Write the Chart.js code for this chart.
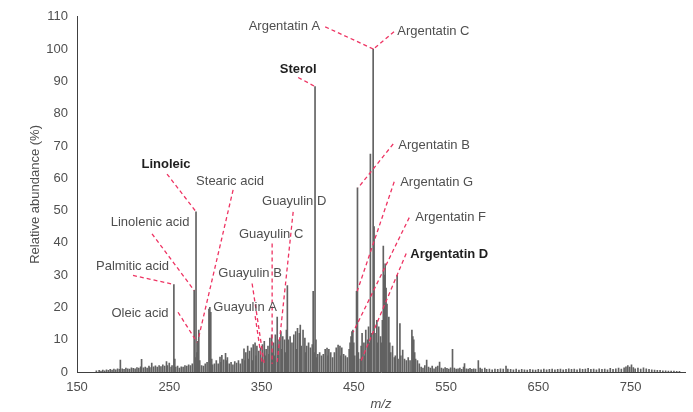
<!DOCTYPE html>
<html>
<head>
<meta charset="utf-8">
<script src="https://cdn.jsdelivr.net/npm/chart.js@4.4.0/dist/chart.umd.min.js"></script>
<style>
html,body{margin:0;padding:0;background:#fff;}
</style>
</head>
<body>
<canvas id="spectrum" width="693" height="412"></canvas>
<script>
// m/z positions of the peaks
const mzValues = [
  171,174,176,178,180,182,184,186,188,190,192,194,196,197,199,201,203,205,207,209,
  211,213,215,217,219,220,222,224,226,228,229,231,233,235,237,239,241,243,245,247,
  248,250,252,253,
  255,256,257,259,261,263,265,267,269,271,273,275,277,278,279,280,281,282,283,285,
  287,289,291,293,294,295,296,297,299,
  301,303,305,306,307,309,311,312,313,315,317,319,321,323,325,327,329,331,332,333,
  335,336,337,339,340,341,343,344,345,347,349,350,351,353,354,355,357,358,359,361,
  362,363,364,365,367,368,369,371,372,373,375,376,377,378,379,381,
  383,385,387,388,389,391,392,393,395,397,398,399,401,403,405,406,407,408,409,410,
  411,413,415,417,419,421,422,423,425,427,429,431,433,435,436,437,439,441,443,445,
  446,447,448,449,450,
  451,453,454,455,457,458,459,461,462,463,465,466,467,468,469,471,472,473,475,476,
  477,479,480,481,482,483,484,485,486,488,489,490,492,494,495,497,498,500,501,503,
  505,507,509,511,513,514,515,516,517,519,521,
  523,525,527,529,531,533,535,537,539,541,543,545,547,549,551,553,555,557,559,561,
  563,565,567,569,570,572,574,576,578,580,582,585,587,589,592,594,597,600,603,606,
  609,612,615,617,620,623,626,629,632,635,638,641,644,647,650,653,656,659,662,665,
  668,671,674,677,680,683,686,689,692,695,698,701,704,707,710,713,716,719,722,725,
  728,731,734,737,740,743,745,747,749,751,753,755,758,761,764,767,770,773,776,779,
  782,785,788,791,794,797,800,803
];

// relative abundance (%) of each peak
const abundance = [
  0.4,0.5,0.3,0.6,0.4,0.7,0.5,0.8,0.6,0.9,0.7,1.0,0.8,3.7,1.0,0.8,1.2,1.0,0.9,1.3,
  1.1,1.0,1.4,1.2,1.6,3.9,1.3,1.5,1.2,1.8,1.4,2.8,1.6,1.9,1.5,2.0,1.7,2.2,1.8,3.2,
  2.0,2.8,1.5,2.0,
  27.1,4.0,1.5,1.8,1.2,1.6,1.5,2.0,1.8,2.2,2.0,2.5,25.3,4.5,49.6,6.0,9.5,13.0,3.5,2.0,
  1.8,2.5,3.0,19.5,20.0,18.5,4.0,2.2,2.5,
  3.5,2.5,4.6,3.0,5.2,3.8,5.8,3.5,4.5,2.5,3.0,2.2,3.2,2.8,3.5,2.5,4.0,7.2,3.5,6.0,
  8.0,4.0,6.5,7.5,3.5,8.5,9.0,5.0,8.0,6.5,7.5,4.0,8.5,9.5,5.0,7.0,8.0,5.5,10.5,11.5,
  6.0,9.0,5.0,11.5,17.0,8.0,10.0,12.5,7.0,11.0,10.0,6.0,13.0,26.8,10.0,11.0,
  9.0,11.5,12.5,7.0,13.5,12.0,14.5,8.0,13.0,10.5,6.0,8.0,9.0,7.5,8.5,25.0,6.0,88.4,10.0,4.5,
  5.5,6.0,5.0,5.5,7.0,7.4,5.0,7.0,6.0,4.5,6.0,7.5,8.3,8.0,5.0,7.5,5.5,5.0,4.5,7.0,
  9.0,11.0,12.5,13.0,9.0,
  5.0,25.0,57.0,6.0,4.0,8.0,12.0,9.0,5.0,13.0,10.0,14.0,9.0,67.5,12.0,100,45.0,12.0,16.0,9.0,
  14.0,11.0,9.0,16.0,39.0,30.0,33.5,26.0,21.0,17.0,9.0,6.0,8.0,4.5,5.0,29.9,4.0,15.0,5.0,6.8,
  4.0,3.5,4.5,3.5,13.0,11.0,10.0,6.0,4.0,3.5,2.5,
  1.5,1.2,2.0,3.7,1.5,1.2,1.8,1.0,1.5,1.8,3.1,1.2,1.0,1.4,1.1,0.9,1.3,7.0,1.2,0.9,
  1.0,1.2,0.8,1.5,2.6,1.0,0.9,1.1,0.8,1.0,0.9,3.5,1.2,0.9,1.2,0.8,0.9,0.7,0.9,0.8,
  1.0,0.9,1.8,0.9,0.8,0.7,0.9,0.6,0.8,0.7,0.6,0.8,0.7,0.6,0.8,0.7,0.9,0.7,0.8,0.9,
  0.7,0.8,0.9,0.7,0.8,1.0,0.8,0.9,0.7,1.0,0.8,0.9,1.1,0.8,0.9,0.7,1.0,0.8,0.9,0.7,
  1.1,0.8,1.0,1.2,0.9,1.3,1.6,2.0,1.5,2.2,1.4,1.0,1.2,0.9,1.3,1.0,0.8,0.7,0.6,0.5,
  0.5,0.4,0.4,0.3,0.3,0.3,0.2,0.2
];

const xTicks = [150, 250, 350, 450, 550, 650, 750];

// annotated compounds and the peak each one points at
const annText = ['Argentatin A','Argentatin C','Sterol','Argentatin B','Argentatin G','Argentatin F','Argentatin D',
                 'Linoleic','Stearic acid','Linolenic acid','Palmitic acid','Oleic acid',
                 'Guayulin D','Guayulin C','Guayulin B','Guayulin A'];
const annBold = [false,false,true,false,false,false,true, true,false,false,false,false, false,false,false,false];
const annPeakMz = [471.4, 471.4, 408.1, 454.6, 453.7, 449.3, 456.9, 279.1, 281.2, 276.9, 255.2, 280.2, 366.9, 361.5, 352.8, 350.6];
const annPeakAb = [100, 100, 88.4, 57, 25, 12.3, 2.8, 49.6, 9.9, 25.3, 27.1, 9.2, 2.8, 2.5, 2.8, 2.8];

// label placement (in axis units)
const annFromMz = [419.0, 493.6, 389.7, 492.7, 493.8, 510.1, 506.8, 247.6, 319.2, 231.3, 210.7, 259.5, 384.3, 361.5, 339.8, 343.1];
const annFromAb = [106.9, 105.4, 91.2, 70.6, 58.9, 47.8, 36.7, 61.3, 56.4, 42.8, 29.9, 18.5, 49.6, 39.8, 27.4, 17.3];
const annTextMz = [413.6, 497.1, 389.7, 498.2, 500.3, 516.6, 511.2, 246.5, 279.1, 229.2, 210.2, 218.3, 385.4, 360.4, 337.6, 332.2];
const annTextAb = [106.9, 105.4, 93.7, 70.3, 58.6, 47.8, 36.4, 64.4, 58.9, 46.2, 32.7, 18.2, 52.7, 42.5, 30.5, 20.0];
const annAlign = ['right','left','center','left','left','left','left','center','left','center','center','center','center','center','center','center'];

const FONT = "'Liberation Sans', Arial, sans-serif";
const GREY = '#4f4f4f';

const peakLabels = {
    id: 'peakLabels',
    afterDatasetsDraw(chart){
        const ctx = chart.ctx;
        const x = chart.scales.x;
        const y = chart.scales.y;
        ctx.save();
        ctx.strokeStyle = '#ee3463';
        ctx.lineWidth = 1.3;
        ctx.setLineDash([4,3]);
        for(let i=0;i<annText.length;i++){
            ctx.beginPath();
            ctx.moveTo(x.getPixelForValue(annFromMz[i]), y.getPixelForValue(annFromAb[i]));
            ctx.lineTo(x.getPixelForValue(annPeakMz[i]), y.getPixelForValue(annPeakAb[i]));
            ctx.stroke();
        }
        ctx.setLineDash([]);
        ctx.textBaseline = 'middle';
        for(let i=0;i<annText.length;i++){
            ctx.font = (annBold[i] ? 'bold ' : '') + '13px ' + FONT;
            ctx.fillStyle = annBold[i] ? '#1e1e1e' : GREY;
            ctx.textAlign = annAlign[i];
            ctx.fillText(annText[i], x.getPixelForValue(annTextMz[i]), y.getPixelForValue(annTextAb[i]));
        }
        ctx.restore();
    }
};

const points = mzValues.map((m,i) => ({x: m, y: abundance[i]}));

new Chart(document.getElementById('spectrum'), {
    type: 'bar',
    data: {
        datasets: [{
            data: points,
            backgroundColor: '#626262',
            borderWidth: 0,
            barThickness: 1
        }]
    },
    options: {
        responsive: false,
        animation: false,
        layout: { padding: {left: 0, right: 8, top: 15, bottom: 0} },
        plugins: {
            legend: { display: false },
            tooltip: { enabled: false }
        },
        scales: {
            x: {
                type: 'linear',
                min: 150,
                max: 809,
                offset: false,
                grid: { display: false, drawTicks: false, offset: false },
                border: { color: '#404040', width: 1 },
                afterBuildTicks: s => { s.ticks = xTicks.map(v => ({value: v})); },
                ticks: { color: GREY, font: {family: FONT, size: 13}, padding: 8, maxRotation: 0, autoSkip: false },
                title: { display: true, text: 'm/z', color: GREY,
                         font: {family: FONT, size: 13, style: 'italic'}, padding: {top: 0, bottom: 0} },
                afterFit: s => { s.height = 40; }
            },
            y: {
                min: 0,
                max: 110,
                grid: { display: false, drawTicks: false },
                border: { color: '#404040', width: 1 },
                ticks: { stepSize: 10, color: GREY, font: {family: FONT, size: 13}, padding: 9 },
                title: { display: true, text: 'Relative abundance (%)', color: GREY,
                         font: {family: FONT, size: 13}, padding: {top: 28, bottom: 0} },
                afterFit: s => { s.width = 77; }
            }
        }
    },
    plugins: [peakLabels]
});
</script>
</body>
</html>
